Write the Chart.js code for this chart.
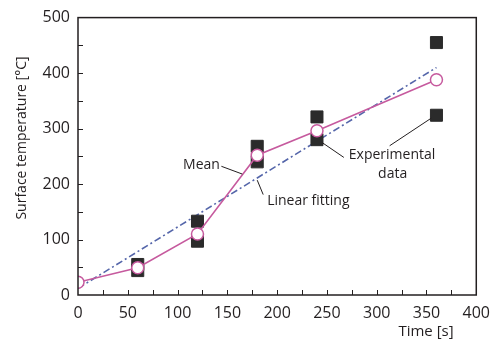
<!DOCTYPE html>
<html>
<head>
<meta charset="utf-8">
<script src="https://cdn.jsdelivr.net/npm/chart.js@4/dist/chart.umd.min.js"></script>
<style>
    html, body { margin: 0; padding: 0; background: #fff; }
    #wrap { width: 499px; height: 342px; }
</style>
</head>
<body>
<div id="wrap"><canvas id="chart"></canvas></div>
<script>
// time [s] of each measurement
const times = [0, 60, 120, 180, 240, 360];
const expTimes = [60, 120, 180, 240, 360];
// two experimental runs
const runA = [55, 133, 268, 321, 455];
const runB = [44, 97, 240, 280, 324];
// mean of the runs
const meanTemp = [23, 49, 110, 252, 296, 388];
// linear fit end points
const fitTimes = [0, 360];
const fitTemp = [12, 410];

const xTicks = [0, 50, 100, 150, 200, 250, 300, 350, 400];
const yTicks = [0, 100, 200, 300, 400, 500];

// labels with leader lines, in data units
const notes = [
    { text: 'Mean', x: 124, y: 234, align: 'center', from: [144, 232], to: [165, 218] },
    { text: 'Linear fitting', x: 190, y: 170, align: 'left', from: [180, 207], to: [186, 181] },
    { text: 'Experimental', x: 272, y: 252, align: 'left', from: [245, 275], to: [267, 248] },
    { text: 'data', x: 316, y: 218, align: 'center', from: [313, 269], to: [355, 319] },
];

const FONT = '"Open Sans", "Noto Sans", sans-serif';
const ink = '#231f20';

const points = (xs, ys) => xs.map((x, i) => ({ x, y: ys[i] }));

const framePlugin = {
    id: 'frame',
    afterDatasetsDraw(chart) {
        const { ctx, chartArea: a, scales: { x, y } } = chart;
        ctx.save();
        ctx.strokeStyle = ink;
        ctx.lineWidth = 1.5;
        ctx.strokeRect(a.left, a.top, a.right - a.left, a.bottom - a.top);

        ctx.lineWidth = 1;
        ctx.beginPath();
        for (let v = 25; v < 400; v += 25) {
            const px = Math.round(x.getPixelForValue(v)) + 0.5;
            ctx.moveTo(px, a.bottom);
            ctx.lineTo(px, a.bottom - 5);
        }
        for (let v = 50; v < 500; v += 50) {
            const py = Math.round(y.getPixelForValue(v)) + 0.5;
            ctx.moveTo(a.left, py);
            ctx.lineTo(a.left + 5, py);
        }
        ctx.stroke();

        ctx.fillStyle = ink;
        ctx.font = '14px ' + FONT;
        ctx.textBaseline = 'middle';
        notes.forEach(n => {
            ctx.beginPath();
            ctx.moveTo(x.getPixelForValue(n.from[0]), y.getPixelForValue(n.from[1]));
            ctx.lineTo(x.getPixelForValue(n.to[0]), y.getPixelForValue(n.to[1]));
            ctx.stroke();
            ctx.textAlign = n.align;
            ctx.fillText(n.text, x.getPixelForValue(n.x), y.getPixelForValue(n.y));
        });

        ctx.font = '15px ' + FONT;
        ctx.textAlign = 'center';
        ctx.fillText('Time [s]', 426, 332);
        ctx.font = '14px ' + FONT;
        ctx.translate(22, 138);
        ctx.rotate(-Math.PI / 2);
        ctx.fillText('Surface temperature [°C]', 0, 0);
        ctx.restore();
    },
};

new Chart(document.getElementById('chart'), {
    type: 'scatter',
    data: {
        datasets: [
            {
                data: points(times, meanTemp),
                showLine: true,
                borderColor: '#c65a9e',
                borderWidth: 1.6,
                pointRadius: 6,
                pointBackgroundColor: '#fff',
                pointBorderColor: '#c65a9e',
                pointBorderWidth: 1.5,
            },
            {
                data: points(expTimes, runA),
                pointStyle: 'rect',
                pointRadius: 8.5,
                backgroundColor: '#2b2b2b',
                borderColor: '#2b2b2b',
                borderWidth: 1,
            },
            {
                data: points(expTimes, runB),
                pointStyle: 'rect',
                pointRadius: 8.5,
                backgroundColor: '#2b2b2b',
                borderColor: '#2b2b2b',
                borderWidth: 1,
            },
            {
                data: points(fitTimes, fitTemp),
                showLine: true,
                borderColor: '#5566aa',
                borderWidth: 1.6,
                borderDash: [7, 3, 2, 3],
                pointRadius: 0,
            },
        ],
    },
    options: {
        responsive: true,
        maintainAspectRatio: false,
        animation: false,
        layout: { padding: { top: 9, right: 13, left: 0, bottom: 0 } },
        plugins: {
            legend: { display: false },
            tooltip: { enabled: false },
        },
        scales: {
            x: {
                type: 'linear',
                min: 0,
                max: 400,
                afterBuildTicks(scale) {
                    scale.ticks = xTicks.map(value => ({ value }));
                },
                afterFit(scale) {
                    scale.height = 47;
                },
                grid: { display: false, drawTicks: false },
                border: { display: false },
                ticks: {
                    color: ink,
                    padding: 9,
                    maxRotation: 0,
                    font: { family: FONT, size: 16 },
                },
            },
            y: {
                min: 0,
                max: 500,
                afterBuildTicks(scale) {
                    scale.ticks = yTicks.map(value => ({ value }));
                },
                afterFit(scale) {
                    scale.width = 78;
                },
                grid: { display: false, drawTicks: false },
                border: { display: false },
                ticks: {
                    color: ink,
                    padding: 8,
                    font: { family: FONT, size: 16 },
                },
            },
        },
    },
    plugins: [framePlugin],
});
</script>
</body>
</html>
